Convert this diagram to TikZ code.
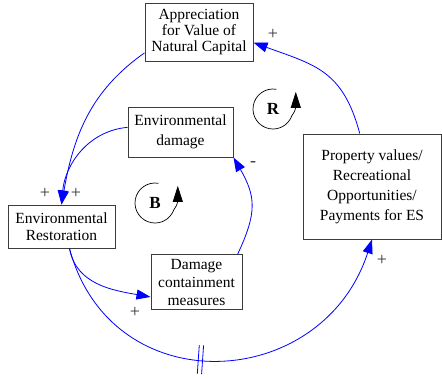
\documentclass[tikz,border=0pt]{standalone}
\usepackage{fontspec}
\setmainfont{Liberation Serif}
\newfontfamily\boxfont{Liberation Serif}
\usetikzlibrary{arrows.meta}
\definecolor{boxgray}{RGB}{60,60,60}
\begin{document}
\begin{tikzpicture}[x=1pt,y=1pt,
  box/.style={draw=boxgray, line width=1pt, inner sep=0pt, align=center, fill=white},
  link/.style={draw=blue, line width=0.8pt, -{Triangle[length=14pt,width=10pt]}},
  pol/.style={font=\boxfont\fontsize{18}{18}\selectfont, text=black!80, inner sep=0pt},
  loopname/.style={font=\boxfont\fontsize{17}{17}\selectfont\bfseries, inner sep=0pt},
  looparc/.style={draw=black, line width=0.7pt, -{Triangle[length=16pt,width=10pt]}},
  delaymark/.style={minimum width=3.5pt, minimum height=28pt, inner sep=0pt, draw=none, sloped}
]
\useasboundingbox (0,0) rectangle (442,-378);

% boxes
\node[box, minimum width=108pt, minimum height=58pt, font=\boxfont\fontsize{15.5}{16}\selectfont] (app) at (199,-32) {Appreciation\\for Value of\\Natural Capital};
\node[box, minimum width=107pt, minimum height=43pt, font=\boxfont\fontsize{15.5}{17}\selectfont] (rest) at (61.5,-226.5) {Environmental\\Restoration};
\node[box, minimum width=105pt, minimum height=50pt, font=\boxfont\fontsize{15.5}{20}\selectfont] (dam) at (180.5,-132) {Environmental\\damage};
\node[box, minimum width=91pt, minimum height=54.5pt, font=\boxfont\fontsize{15.5}{18}\selectfont] (cont) at (196.5,-282) {Damage\\containment\\measures};
\node[box, minimum width=138pt, minimum height=105pt, font=\boxfont\fontsize{15.5}{20}\selectfont] (prop) at (372,-186.5) {Property values/\\Recreational\\Opportunities/\\Payments for ES};

% connectors
\draw[link] (app.201) to[out=215,in=80] (rest.north);
\draw[link] (dam.175) to[out=185,in=85] (rest.north);
\draw[link] (rest.-70) to[out=-80,in=170] (cont.198);
\draw[link] (cont.34) to[out=65,in=-60,looseness=1.2] (dam.south east);
\draw[link] (rest.-70) to[out=-75,in=-108,looseness=1.36] node[delaymark,pos=0.455] (delay) {} (prop.south);
\draw[link] (prop.103) to[out=105,in=-20,looseness=1.2] (app.-11);

% delay mark
\draw[blue, line width=0.8pt] (delay.north west) -- (delay.south west);
\draw[blue, line width=0.8pt] (delay.north east) -- (delay.south east);

% polarities
\node[pol] (p1) at (45,-193) {+};
\node[pol] (p2) at (76,-193) {+};
\node[pol] (p3) at (273,-34) {+};
\node[pol] (p4) at (135,-312) {+};
\node[pol] (p5) at (253,-164) {-};
\node[pol] (p6) at (382,-260) {+};

% loop markers
\node[loopname] (Rl) at (273,-109) {R};
\draw[looparc] (Rl.center) ++(80:20) arc[start angle=80,end angle=340,radius=20] to[out=70,in=-90] ++(4,8) -- ++(0,16);
\node[loopname] (Bl) at (155,-203) {B};
\draw[looparc] (Bl.center) ++(80:20) arc[start angle=80,end angle=340,radius=20] to[out=70,in=-90] ++(4,8) -- ++(0,16);
\end{tikzpicture}
\end{document}
